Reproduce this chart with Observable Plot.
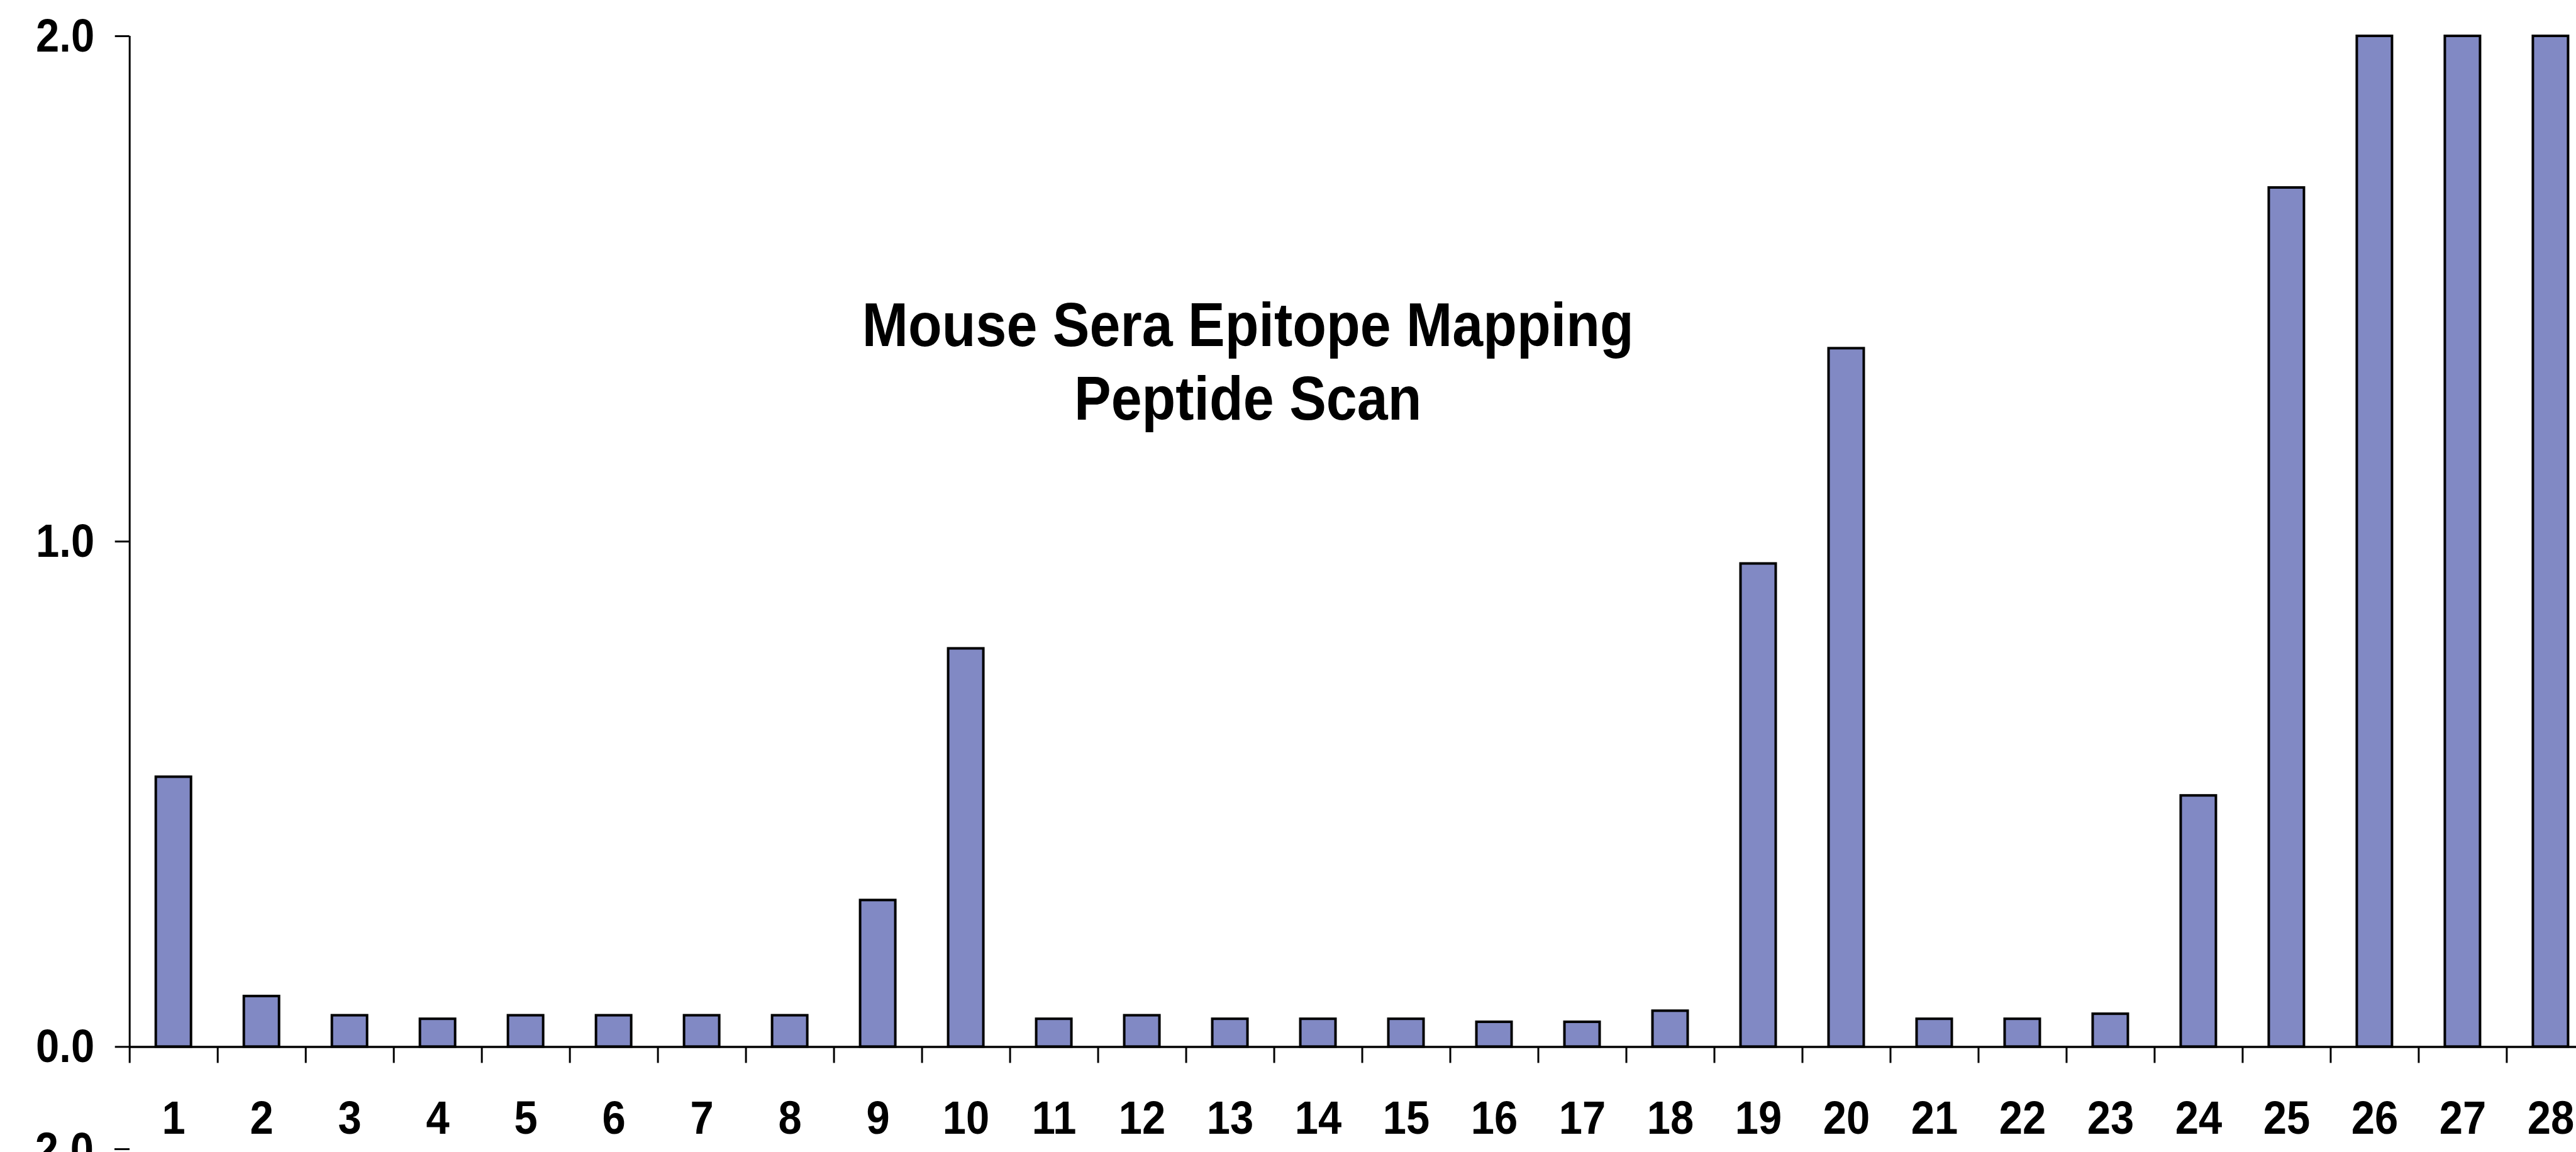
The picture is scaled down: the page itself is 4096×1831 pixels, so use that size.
<!DOCTYPE html>
<html>
<head>
<meta charset="utf-8">
<script src="https://cdn.jsdelivr.net/npm/d3@7"></script>
<script src="https://cdn.jsdelivr.net/npm/@observablehq/plot@0.6"></script>
<style>
  html, body { margin: 0; padding: 0; background: #fff; overflow: hidden; }
  #wrap { position: relative; width: 4096px; height: 1831px; overflow: hidden; }
  #wrap svg { overflow: hidden; }
  .cut { position: absolute; font-family: "Liberation Sans", Arial, sans-serif; font-weight: bold; color: #000; }
</style>
</head>
<body>
<div id="wrap"></div>
<script>
// ---- data ----
const peptides = [1,2,3,4,5,6,7,8,9,10,11,12,13,14,15,16,17,18,19,20,21,22,23,24,25,26,27,28];
const values = [0.534, 0.100, 0.062, 0.055, 0.062, 0.062, 0.062, 0.062, 0.290, 0.788,
                0.055, 0.062, 0.055, 0.055, 0.055, 0.049, 0.049, 0.071, 0.956, 1.382,
                0.055, 0.055, 0.065, 0.497, 1.700, 2.000, 2.000, 2.000];
const yTicks = [0, 1, 2];
const titleLines = ["Mouse Sera Epitope Mapping", "Peptide Scan"];
const nextChartTick = "2.0";

const data = peptides.map((p, i) => ({pep: p, value: values[i]}));
const boundaries = d3.range(0, peptides.length + 1);

const W = 4096, H = 1831;
const FONT = "'Liberation Sans', Arial, sans-serif";

const chart = Plot.plot({
  width: W,
  height: H,
  marginTop: 57,
  marginBottom: 167.6,
  marginLeft: 205.7,
  marginRight: 0,
  style: {fontFamily: FONT, fontWeight: "bold", color: "#000", background: "#fff", overflow: "hidden"},
  x: {type: "linear", domain: [0, peptides.length], range: [205.7, 4125.4]},
  y: {domain: [0, 2]},
  marks: [
    Plot.rectY(data, {
      x1: d => d.pep - 1, x2: d => d.pep, y: "value",
      fill: "#8189C4", stroke: "#000", strokeWidth: 4,
      insetLeft: 42, insetRight: 42
    }),
    Plot.ruleY([0], {stroke: "#000", strokeWidth: 3.5}),
    Plot.ruleX([0], {y1: 0, y2: 2, stroke: "#000", strokeWidth: 3}),
    Plot.axisX({ticks: boundaries, tickSize: 26, tickFormat: () => "", label: null, strokeWidth: 3, stroke: "#000"}),
    Plot.axisY({ticks: yTicks, tickFormat: d3.format(".1f"), tickSize: 23, tickPadding: 33,
                fontSize: 67, fontWeight: "bold", label: null, strokeWidth: 3, stroke: "#000", fill: "#000"}),
    Plot.text(data, {
      x: d => d.pep - 0.5, y: () => 0, text: d => String(d.pep),
      dy: 114, fontSize: 67, fontWeight: "bold", fill: "#000", lineAnchor: "middle"
    }),
    Plot.text([titleLines.join("\n")], {
      text: d => d, frameAnchor: "top-left", dx: 1778, dy: 409,
      textAnchor: "middle", lineAnchor: "top", lineHeight: 1.19,
      fontSize: 88, fontWeight: "bold", fill: "#000"
    })
  ]
});

// the reference's lettering is slightly taller than Arial Bold: stretch glyphs vertically
chart.querySelectorAll("text").forEach(t => {
  const tr = t.getAttribute("transform") || "";
  const x = +t.getAttribute("x") || 0, y = +t.getAttribute("y") || 0;
  t.setAttribute("transform", `${tr} translate(${x},${y}) scale(1,1.12) translate(${-x},${-y})`);
});

const wrap = document.getElementById("wrap");
wrap.appendChild(chart);

// top of the next chart, cut off by the bottom edge of the picture
const lab = document.createElement("div");
lab.className = "cut";
lab.textContent = nextChartTick;
Object.assign(lab.style, {left: "0px", top: "1793px", width: "149px", textAlign: "right",
  fontSize: "67px", lineHeight: "67px", transform: "scaleY(1.12)"});
wrap.appendChild(lab);
const tk = document.createElement("div");
Object.assign(tk.style, {position: "absolute", left: "182px", top: "1825px", width: "24px", height: "3px", background: "#000"});
wrap.appendChild(tk);
</script>
</body>
</html>
